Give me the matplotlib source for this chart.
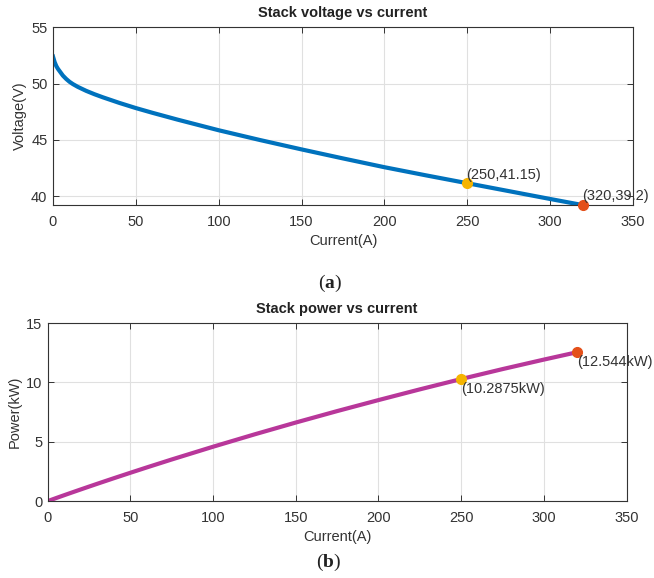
import numpy as np
import matplotlib
matplotlib.use('Agg')
import matplotlib.pyplot as plt

plt.rcParams['font.family'] = ['Liberation Sans', 'DejaVu Sans']
plt.rcParams['mathtext.fontset'] = 'custom'
plt.rcParams['mathtext.rm'] = 'Liberation Serif'
plt.rcParams['mathtext.bf'] = 'Liberation Serif:bold'

# data
current = [0, 0.5, 1, 2, 3, 4, 6, 8, 10, 12, 15, 20, 25, 30, 40, 50, 60, 75,
           100, 125, 150, 175, 200, 225, 250, 275, 300, 320]
voltage = [52.4, 52.15, 51.9, 51.55, 51.3, 51.1, 50.7, 50.4, 50.15, 49.95,
           49.7, 49.35, 49.05, 48.78, 48.28, 47.82, 47.4, 46.8, 45.85, 44.98,
           44.15, 43.35, 42.57, 41.85, 41.15, 40.45, 39.75, 39.2]
mark_current = [250, 320]
mark_voltage = [41.15, 39.2]
mark_power = [10.2875, 12.544]
mark_colors = ['#F5B400', '#E4501A']

current = np.array(current)
voltage = np.array(voltage)
power = current * voltage / 1000.0

txt = '#333333'
fs = 10.5
fig = plt.figure(figsize=(6.54, 5.78), dpi=100)

def style(ax):
    ax.grid(True, color='#e0e0e0', linewidth=0.8)
    ax.set_axisbelow(True)
    ax.tick_params(direction='in', top=True, right=True, length=4,
                   labelsize=10.5, colors=txt, width=0.7)
    ax.tick_params(axis='x', pad=7)
    ax.tick_params(axis='y', pad=4)
    for s in ax.spines.values():
        s.set_color('#333333')
        s.set_linewidth(0.8)

# (a) voltage
ax1 = fig.add_axes([0.081, 0.645, 0.887, 0.308])
ax1.plot(current, voltage, color='#0072BD', linewidth=3)
for x, y, c in zip(mark_current, mark_voltage, mark_colors):
    ax1.plot(x, y, 'o', color=c, markersize=7, clip_on=False, zorder=5)
    ax1.text(x - 1, y + 0.15, '(%g,%g)' % (x, y), fontsize=fs, color=txt,
             ha='left', va='bottom', clip_on=False, zorder=6)
ax1.set_xlim(0, 350)
ax1.set_ylim(39.2, 55)
ax1.set_xticks(range(0, 351, 50))
ax1.set_yticks([40, 45, 50, 55])
ax1.set_title('Stack voltage vs current', fontsize=fs, fontweight='bold',
              color='#222222', pad=7)
ax1.set_xlabel('Current(A)', fontsize=fs, color=txt, labelpad=4)
ax1.set_ylabel('Voltage(V)', fontsize=fs, color=txt, labelpad=3)
style(ax1)

# (b) power
ax2 = fig.add_axes([0.073, 0.133, 0.885, 0.308])
ax2.plot(current, power, color='#B8379A', linewidth=3)
for x, p, c in zip(mark_current, mark_power, mark_colors):
    ax2.plot(x, p, 'o', color=c, markersize=7, clip_on=False, zorder=5)
    ax2.text(x, p - 0.25, '(%gkW)' % p, fontsize=fs, color=txt,
             ha='left', va='top', clip_on=False, zorder=6)
ax2.set_xlim(0, 350)
ax2.set_ylim(0, 15)
ax2.set_xticks(range(0, 351, 50))
ax2.set_yticks([0, 5, 10, 15])
ax2.set_title('Stack power vs current', fontsize=fs, fontweight='bold',
              color='#222222', pad=7)
ax2.set_xlabel('Current(A)', fontsize=fs, color=txt, labelpad=4)
ax2.set_ylabel('Power(kW)', fontsize=fs, color=txt, labelpad=3)
style(ax2)

fig.text(0.505, 1 - 283 / 578, r'($\mathbf{a}$)', fontsize=14,
         family='Liberation Serif', ha='center', va='center', color='#222222')
fig.text(0.502, 1 - 562 / 578, r'($\mathbf{b}$)', fontsize=14,
         family='Liberation Serif', ha='center', va='center', color='#222222')

fig.savefig('out.png', dpi=100)
